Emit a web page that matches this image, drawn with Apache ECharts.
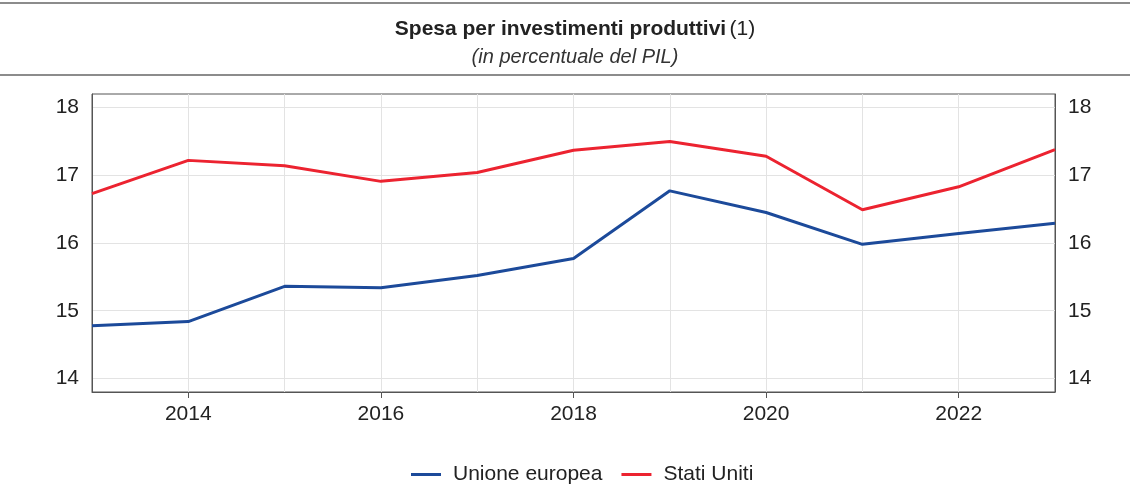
<!DOCTYPE html>
<html><head><meta charset="utf-8">
<script src="https://cdn.jsdelivr.net/npm/echarts@6/dist/echarts.min.js"></script>
<style>html,body{margin:0;padding:0;background:#fff}#c{width:1130px;height:494px}</style>
</head><body><div id="c"></div>
<script>
const years = ['2013','2014','2015','2016','2017','2018','2019','2020','2021','2022','2023'];
const ueValues = [14.78, 14.84, 15.36, 15.34, 15.52, 15.77, 16.77, 16.45, 15.98, 16.14, 16.29];
const usValues = [16.73, 17.22, 17.14, 16.91, 17.04, 17.37, 17.50, 17.28, 16.49, 16.83, 17.38];
const yTicks = [14, 15, 16, 17, 18];
const seriesNames = ['Unione europea', 'Stati Uniti'];
const titleText = 'Spesa per investimenti produttivi';
const subtitleText = '(in percentuale del PIL)';

const chart = echarts.init(document.getElementById('c'));
const font = 'Liberation Sans, Arial, sans-serif';
function yAxisDef(pos, grid) {
  return {
    type: 'value', min: 13.8, max: 18.2, position: pos,
    axisLine: {show: true, lineStyle: {color: '#555', width: 1}},
    axisTick: {show: false, customValues: yTicks},
    splitLine: {show: grid, lineStyle: {color: '#e3e3e3', width: 1}},
    axisLabel: {color: '#222', fontSize: 21, fontFamily: font, margin: 13,
      customValues: yTicks, formatter: v => String(v)},
  };
}
chart.setOption({
  animation: false,
  graphic: [
    {type: 'line', shape: {x1: 0, y1: 3, x2: 1130, y2: 3}, style: {stroke: '#666', lineWidth: 1.5}},
    {type: 'line', shape: {x1: 0, y1: 75, x2: 1130, y2: 75}, style: {stroke: '#666', lineWidth: 1.5}},
    {type: 'text', x: 575, y: 29, style: {
      text: '{b|' + titleText + '} {n|(1)}', align: 'center', verticalAlign: 'middle',
      rich: {b: {fontWeight: 'bold', fontSize: 21, fontFamily: font, fill: '#222'},
             n: {fontSize: 21, fontFamily: font, fill: '#222'}}}},
    {type: 'text', x: 575, y: 57, style: {
      text: subtitleText, align: 'center', verticalAlign: 'middle',
      fontStyle: 'italic', fontSize: 20, fontFamily: font, fill: '#333'}}
  ],
  grid: {left: 92, right: 75, top: 94, bottom: 102, show: true, borderColor: '#555', borderWidth: 1, backgroundColor: 'transparent'},
  legend: {
    top: 459, left: 406, itemWidth: 30, itemHeight: 3, itemGap: 19,
    icon: 'rect',
    textStyle: {fontSize: 21, fontFamily: font, color: '#222', padding: [0, 0, 0, 7]},
    data: seriesNames
  },
  xAxis: {
    type: 'category', data: years, boundaryGap: false,
    axisLine: {show: true, lineStyle: {color: '#555'}},
    axisTick: {show: true, length: 6, lineStyle: {color: '#555'}, interval: (i, v) => Number(v) % 2 === 0},
    axisLabel: {color: '#222', fontSize: 21, fontFamily: font, margin: 12, interval: (i, v) => Number(v) % 2 === 0},
    splitLine: {show: true, interval: 0, lineStyle: {color: '#e3e3e3'}}
  },
  yAxis: [yAxisDef('left', true), yAxisDef('right', false)],
  series: [
    {name: seriesNames[0], type: 'line', data: ueValues, showSymbol: false, symbol: 'none',
     lineStyle: {color: '#1c4a9a', width: 3}, itemStyle: {color: '#1c4a9a'}},
    {name: seriesNames[1], type: 'line', data: usValues, showSymbol: false, symbol: 'none',
     lineStyle: {color: '#ec2330', width: 3}, itemStyle: {color: '#ec2330'}}
  ]
});
</script></body></html>
